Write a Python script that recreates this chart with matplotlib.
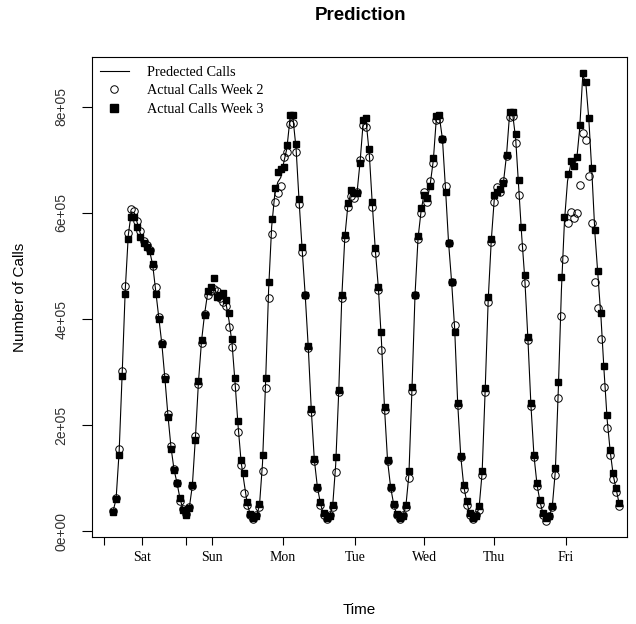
import matplotlib
matplotlib.use("Agg")
import matplotlib.pyplot as plt
from matplotlib.lines import Line2D
import numpy as np

# Hourly call volume in thousands, hour 0 = early Saturday morning.
PREDICTED = [
    37, 61, 150, 298, 455, 558, 602, 600, 580, 560,
    546, 538, 528, 502, 452, 402, 353, 288, 218, 158,
    116, 90, 60, 41, 30, 44, 86, 176, 281, 358,
    409, 448, 456, 465, 446, 442, 440, 430, 398, 355,
    280, 198, 130, 90, 52, 31, 24, 29, 48, 128,
    279, 455, 574, 634, 658, 667, 696, 722, 777, 778,
    722, 622, 531, 445, 347, 228, 134, 83, 52, 32,
    24, 29, 47, 126, 264, 442, 555, 615, 638, 633,
    639, 697, 770, 771, 712, 616, 529, 458, 358, 232,
    133, 83, 51, 31, 23, 29, 47, 107, 268, 445,
    553, 604, 637, 624, 655, 699, 779, 781, 739, 645,
    544, 470, 382, 240, 141, 84, 54, 32, 24, 29,
    44, 110, 266, 437, 548, 627, 644, 642, 658, 709,
    786, 787, 740, 648, 555, 475, 364, 238, 142, 88,
    55, 32, 22, 28, 46, 113, 270, 455, 585, 660,
    690, 690, 700, 760, 860, 845, 775, 675, 560, 480,
    400, 300, 210, 150, 105, 78, 50,
]
WEEK2 = [
    38, 62, 154, 302, 462, 563, 607, 604, 585, 565,
    548, 540, 530, 500, 460, 404, 355, 290, 220, 160,
    118, 90, 57, 42, 32, 45, 85, 179, 278, 355,
    410, 445, 452, 456, 452, 440, 432, 425, 385, 347,
    272, 187, 124, 72, 50, 30, 22, 30, 45, 114,
    270, 440, 560, 621, 637, 651, 706, 715, 768, 770,
    714, 617, 527, 445, 345, 225, 132, 82, 50, 30,
    22, 30, 45, 112, 262, 440, 552, 612, 632, 628,
    640, 700, 765, 762, 705, 612, 525, 455, 341, 228,
    132, 82, 50, 30, 22, 30, 45, 100, 265, 445,
    550, 600, 640, 620, 660, 695, 775, 778, 739, 650,
    544, 470, 389, 238, 140, 80, 50, 30, 22, 30,
    40, 105, 262, 432, 545, 620, 648, 640, 660, 708,
    780, 782, 732, 634, 536, 467, 360, 236, 140, 86,
    52, 30, 20, 28, 45, 106, 252, 406, 513, 581,
    602, 590, 600, 653, 750, 738, 669, 581, 470, 420,
    362, 272, 194, 143, 99, 74, 47,
]
WEEK3 = [
    36, 60, 143, 293, 447, 550, 592, 592, 574, 554,
    544, 536, 528, 504, 447, 400, 352, 286, 215, 155,
    115, 91, 62, 40, 30, 43, 87, 172, 284, 360,
    408, 452, 461, 477, 441, 445, 449, 435, 411, 362,
    288, 208, 135, 110, 55, 32, 25, 28, 52, 143,
    288, 470, 588, 647, 678, 683, 687, 728, 785, 785,
    730, 626, 535, 445, 349, 231, 137, 84, 55, 35,
    25, 28, 49, 140, 266, 445, 558, 618, 643, 638,
    638, 694, 776, 779, 720, 620, 533, 460, 376, 235,
    134, 84, 52, 32, 24, 28, 49, 114, 272, 445,
    557, 609, 634, 628, 650, 703, 783, 785, 739, 640,
    544, 469, 376, 241, 142, 87, 57, 35, 25, 28,
    47, 114, 269, 442, 550, 634, 640, 645, 656, 710,
    791, 791, 749, 662, 574, 483, 367, 241, 143, 91,
    58, 35, 25, 28, 47, 120, 282, 479, 593, 674,
    697, 689, 706, 766, 864, 846, 779, 684, 568, 491,
    412, 311, 219, 153, 109, 82, 53,
]

DAY_LABELS = ["Sat", "Sun", "Mon", "Tue", "Wed", "Thu", "Fri"]
DAY_TICKS = [9.5, 32.5, 55.7, 79.3, 102.0, 124.9, 148.5]
EXTRA_TICKS = [-3.0, 23.9]
Y_TICKS = [0, 200000, 400000, 600000, 800000]
Y_LABELS = ["0e+00", "2e+05", "4e+05", "6e+05", "8e+05"]

SERIF = "Liberation Serif"
SANS = "Liberation Sans"

hours = np.arange(len(PREDICTED))
pred = np.array(PREDICTED) * 1000
wk2 = np.array(WEEK2) * 1000
wk3 = np.array(WEEK3) * 1000

fig = plt.figure(figsize=(6.36, 6.24), dpi=100)
ax = fig.add_axes([92 / 636, 1 - 537 / 624, 535 / 636, 480 / 624])

ax.plot(hours, pred, color="black", lw=0.8, zorder=1)
ax.plot(hours, wk2, "o", ms=5.4, mfc="none", mec="black", mew=0.7, zorder=2)
ax.plot(hours, wk3, "s", ms=5.0, color="black", zorder=3)

ax.set_xlim(-6.9, 168.5)
ax.set_ylim(-11000, 894000)

ax.set_xticks(DAY_TICKS + EXTRA_TICKS)
ax.set_xticklabels(DAY_LABELS + [""] * len(EXTRA_TICKS),
                   fontfamily=SERIF, fontsize=10)
ax.set_yticks(Y_TICKS)
ax.set_yticklabels(Y_LABELS, rotation=90, va="center",
                   fontfamily=SANS, fontsize=10, color="#333333")
ax.tick_params(axis="x", length=6, width=0.8, pad=4)
ax.tick_params(axis="y", length=7, width=0.8, pad=10)
for s in ax.spines.values():
    s.set_linewidth(0.8)

ax.set_xlabel("Time", fontfamily=SANS, fontsize=11)
ax.xaxis.set_label_coords(0.5, -0.1375)
ax.set_ylabel("Number of Calls", fontfamily=SANS, fontsize=11)
ax.yaxis.set_label_coords(-0.121, 0.5)

fig.text(361 / 636, 1 - 16 / 624, "Prediction", ha="center", va="center",
         fontfamily=SANS, fontsize=13.5, fontweight="bold")

handles = [
    Line2D([], [], color="black", lw=0.8),
    Line2D([], [], ls="none", marker="o", ms=5.4, mfc="none", mec="black",
           mew=0.7),
    Line2D([], [], ls="none", marker="s", ms=6.0, color="black"),
]
labels = ["Predected Calls", "Actual Calls Week 2", "Actual Calls Week 3"]
ax.legend(handles, labels, loc="upper left", bbox_to_anchor=(0.015, 0.982),
          frameon=False, borderpad=0, borderaxespad=0, handlelength=2.0,
          handletextpad=1.3, labelspacing=0.4,
          prop={"family": SERIF, "size": 10.3})

fig.savefig("out.png", dpi=100)
